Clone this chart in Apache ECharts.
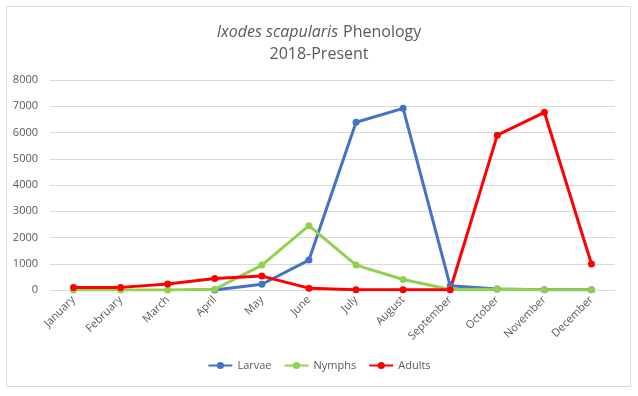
<!DOCTYPE html>
<html><head><meta charset="utf-8">
<script src="https://cdn.jsdelivr.net/npm/echarts@6/dist/echarts.min.js"></script>
<style>html,body{margin:0;padding:0;background:#fff}#c{width:638px;height:396px}</style>
</head><body><div id="c"></div>
<script>
const months = ['January','February','March','April','May','June','July','August','September','October','November','December'];
const larvae = [null, null, null, 0, 220, 1140, 6390, 6920, 160, 40, 10, 5];
const nymphs = [0, 0, 0, 30, 950, 2450, 950, 400, 20, 30, 10, 10];
const adults = [100, 100, 230, 440, 530, 70, 10, 10, 10, 5900, 6770, 990];
const yTicks = [0, 1000, 8000];

const chart = echarts.init(document.getElementById('c'), null, {renderer: 'canvas'});
const font = '"Open Sans", "Noto Sans", sans-serif';
function mk(name, data, color) {
  return {
    name, type: 'line', data, connectNulls: false,
    lineStyle: {color, width: 3}, itemStyle: {color},
    symbol: 'circle', symbolSize: 7, showSymbol: true
  };
}
chart.setOption({
  animation: false,
  graphic: [{type: 'rect', shape: {x: 6.5, y: 6.5, width: 624, height: 380}, style: {fill: 'none', stroke: '#d9d9d9', lineWidth: 1}, silent: true}],
  title: {
    text: '{i|Ixodes scapularis} {n|Phenology}\n{n|2018-Present}',
    left: 'center', top: 16,
    textStyle: {
      fontWeight: 'normal',
      rich: {
        i: {fontStyle: 'italic', fontWeight: 'normal', fontSize: 16, color: '#595959', fontFamily: font, lineHeight: 22},
        n: {fontWeight: 'normal', fontSize: 16, color: '#595959', fontFamily: font, lineHeight: 22}
      }
    }
  },
  legend: {
    bottom: 20, left: 'center', itemWidth: 24, itemHeight: 9, itemGap: 12,
    textStyle: {color: '#595959', fontSize: 11, fontFamily: font},
    data: ['Larvae', 'Nymphs', 'Adults']
  },
  grid: {left: 50, right: 23, top: 80, bottom: 106},
  xAxis: {
    type: 'category', data: months, boundaryGap: true,
    axisLine: {lineStyle: {color: '#d9d9d9'}}, axisTick: {show: false},
    axisLabel: {rotate: 45, color: '#595959', fontSize: 11, fontFamily: font, interval: 0, margin: 8}
  },
  yAxis: {
    type: 'value', min: yTicks[0], max: yTicks[2], interval: yTicks[1],
    axisLine: {show: false}, axisTick: {show: false},
    splitLine: {lineStyle: {color: '#d9d9d9'}},
    axisLabel: {color: '#595959', fontSize: 11, fontFamily: font, margin: 12, formatter: v => String(v)}
  },
  series: [mk('Larvae', larvae, '#4472C4'), mk('Nymphs', nymphs, '#92D050'), mk('Adults', adults, '#FF0000')]
});
</script></body></html>
